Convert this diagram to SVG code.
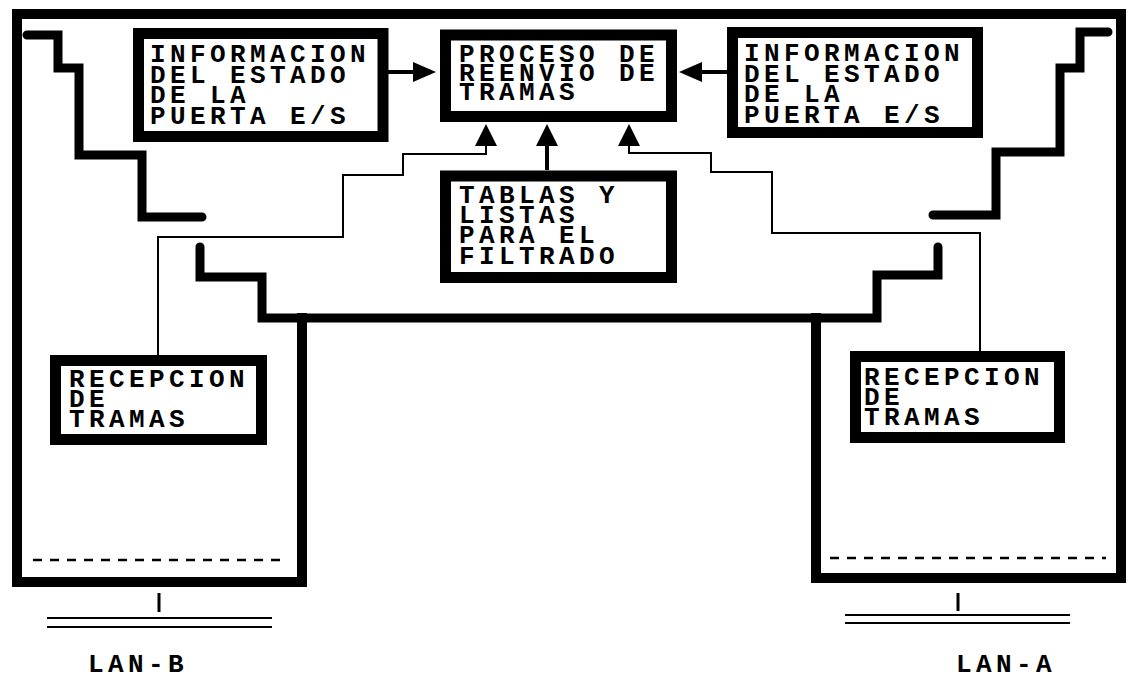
<svg xmlns="http://www.w3.org/2000/svg" width="1133" height="678" viewBox="0 0 1133 678">
<style>
.frame{fill:none;stroke:#000;stroke-width:10;stroke-linejoin:miter;stroke-linecap:square}
.stair{fill:none;stroke:#000;stroke-width:9;stroke-linejoin:miter;stroke-linecap:round}
.box{fill:#fff;stroke:#000;stroke-width:11}
.t{font-family:"Liberation Mono","DejaVu Sans Mono",monospace;font-weight:bold;font-size:26px;letter-spacing:4.4px;fill:#000}
.wire{fill:none;stroke:#000;stroke-width:2}
.thick{fill:none;stroke:#000;stroke-width:4}
.dash{fill:none;stroke:#000;stroke-width:2.5;stroke-dasharray:9 8}
.lan{fill:none;stroke:#000;stroke-width:2}
.head{fill:#000}
</style>
<rect width="1133" height="678" fill="#fff"/>
<g id="frame">
<path class="frame" d="M302,318 V582 H17 V14 H1121 V578 H816 V318"/>
<path class="stair" d="M27,35 H58 V68 H79 V155 H142 V217 H202"/>
<path class="stair" d="M1108,32 H1080 V68 H1060 V152 H996 V215 H933"/>
<path class="stair" d="M200,247 V277 H262 V318 H877 V275 H938 V247"/>
<path class="dash" d="M33,560 H288"/>
<path class="dash" d="M830,558 H1106"/>
</g>
<g id="lan-b">
<path class="lan" d="M159,593 V612" style="stroke-width:3"/>
<path class="lan" d="M47,618 H272 M47,627 H272"/>
<text class="t" x="88" y="672">LAN-B</text>
</g>
<g id="lan-a">
<path class="lan" d="M958,593 V611" style="stroke-width:3"/>
<path class="lan" d="M845,615 H1070 M845,623 H1070"/>
<text class="t" x="956" y="672">LAN-A</text>
</g>
<g id="connectors">
<path class="wire" d="M158,355 V237 H343 V175 H403 V154 H486 V145"/>
<polygon class="head" points="486,124 475,146 497,146"/>
<path class="wire" d="M980,352 V233 H772 V172 H711 V153 H629 V145"/>
<polygon class="head" points="629,124 618,146 640,146"/>
<path class="thick" d="M547,170 V145"/>
<polygon class="head" points="547,124 536,146 558,146"/>
<path class="thick" d="M388,72 H416"/>
<polygon class="head" points="436,72 413,62 413,82"/>
<path class="thick" d="M727,72 H700"/>
<polygon class="head" points="679,72 702,62 702,82"/>
</g>
<g id="info-left">
<rect class="box" x="138.5" y="33.5" width="244.5" height="103"/>
<text class="t" x="150"><tspan x="150" y="62">INFORMACION</tspan><tspan x="150" y="82.5">DEL ESTADO</tspan><tspan x="150" y="103">DE LA</tspan><tspan x="150" y="123.5">PUERTA E/S</tspan></text>
</g>
<g id="proceso">
<rect class="box" x="445.5" y="35" width="226" height="81.5"/>
<text class="t"><tspan x="459" y="62">PROCESO DE</tspan><tspan x="459" y="81">REENVIO DE</tspan><tspan x="459" y="100">TRAMAS</tspan></text>
</g>
<g id="info-right">
<rect class="box" x="732.5" y="32.5" width="245" height="100"/>
<text class="t"><tspan x="744" y="61">INFORMACION</tspan><tspan x="744" y="81.5">DEL ESTADO</tspan><tspan x="744" y="102">DE LA</tspan><tspan x="744" y="122.5">PUERTA E/S</tspan></text>
</g>
<g id="tablas">
<rect class="box" x="445.5" y="176" width="226" height="101.5"/>
<text class="t"><tspan x="459" y="203">TABLAS Y</tspan><tspan x="459" y="223">LISTAS</tspan><tspan x="459" y="243">PARA EL</tspan><tspan x="459" y="263.5">FILTRADO</tspan></text>
</g>
<g id="recepcion-b">
<rect class="box" x="55.5" y="360.5" width="206" height="79"/>
<text class="t"><tspan x="69" y="387">RECEPCION</tspan><tspan x="69" y="407">DE</tspan><tspan x="69" y="427">TRAMAS</tspan></text>
</g>
<g id="recepcion-a">
<rect class="box" x="855.5" y="356.5" width="204" height="81"/>
<text class="t"><tspan x="864" y="385">RECEPCION</tspan><tspan x="864" y="405">DE</tspan><tspan x="864" y="425">TRAMAS</tspan></text>
</g>
</svg>
